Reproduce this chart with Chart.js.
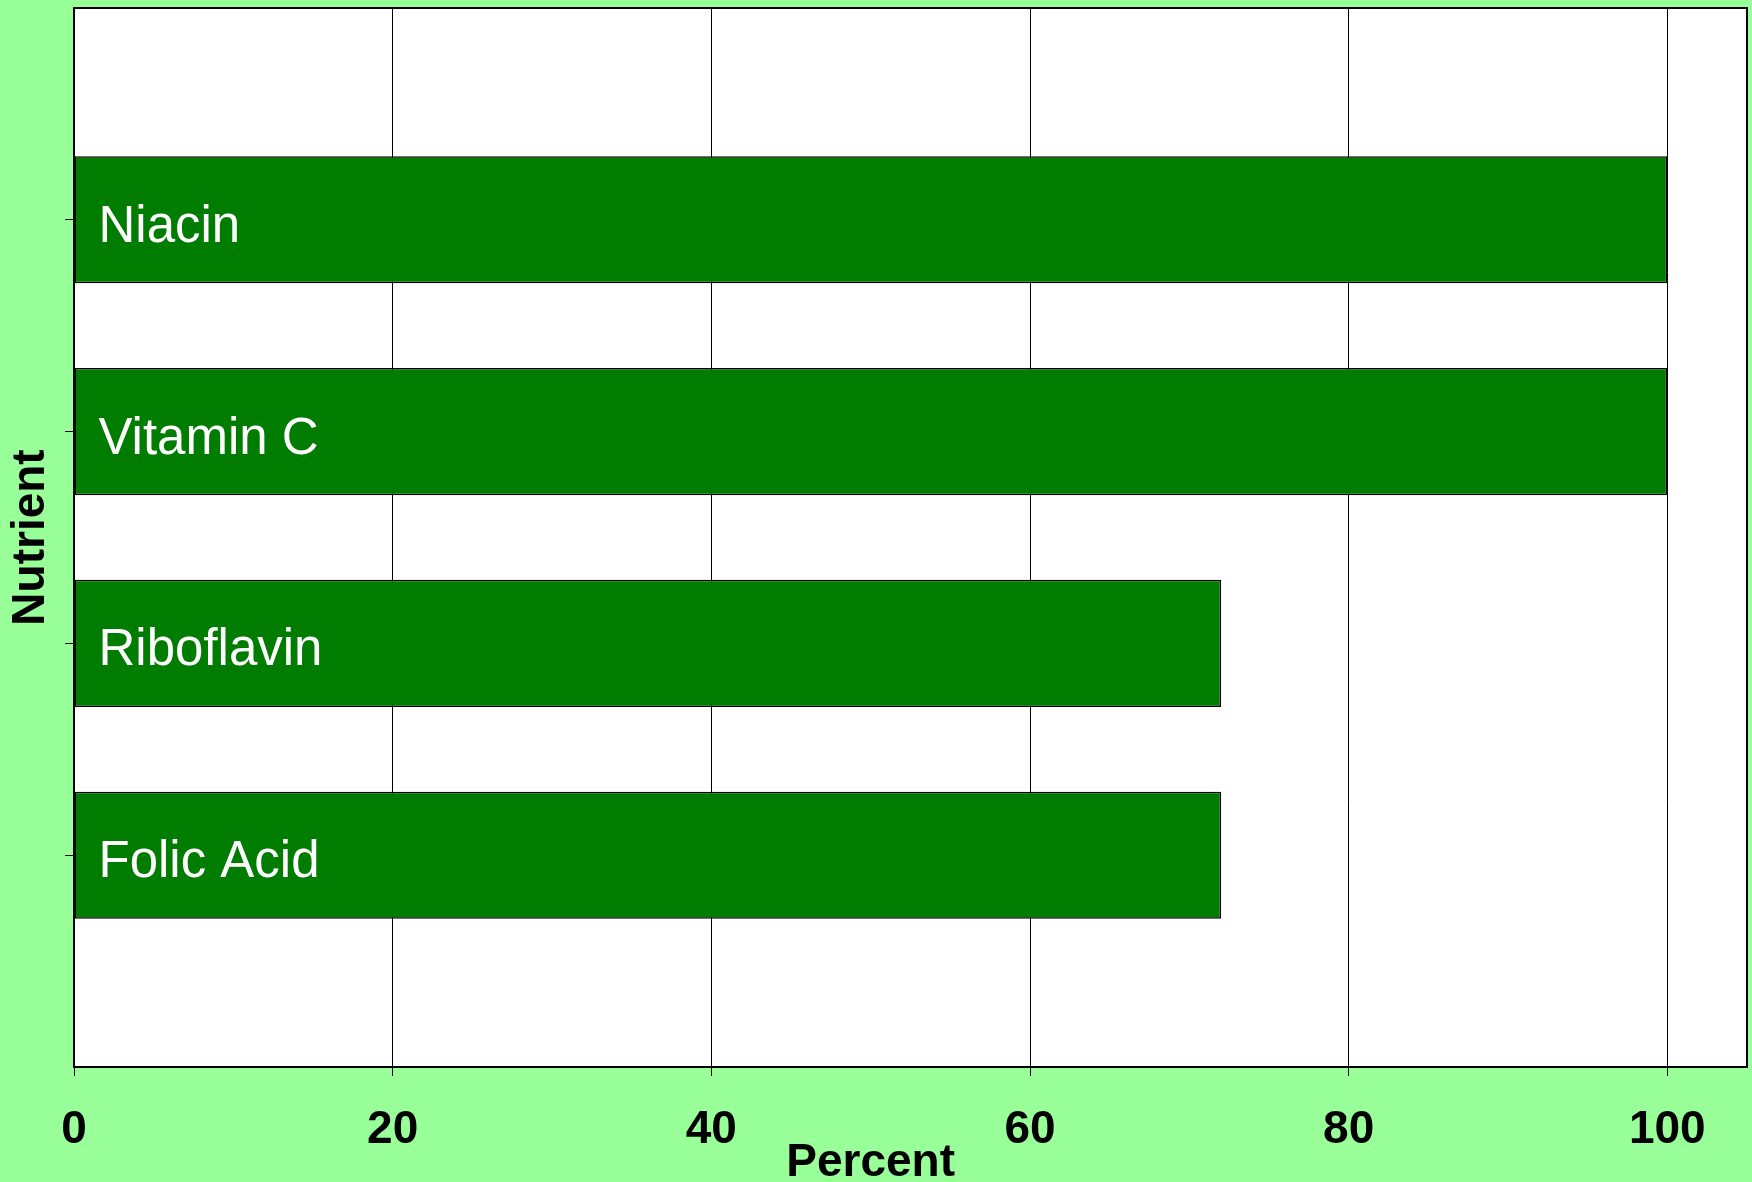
<!DOCTYPE html>
<html>
<head>
<meta charset="utf-8">
<script src="https://cdn.jsdelivr.net/npm/chart.js@4/dist/chart.umd.min.js"></script>
<style>
  html, body { margin: 0; padding: 0; background: #99ff99; }
  #wrap { width: 1752px; height: 1182px; }
</style>
</head>
<body>
<div id="wrap"><canvas id="myChart"></canvas></div>
<script>
// nutrient percentages
const nutrients = ['Niacin', 'Vitamin C', 'Riboflavin', 'Folic Acid'];
const percents = [100, 100, 72, 72];
const xTicks = [0, 20, 40, 60, 80, 100];

const FONT = "'Liberation Sans', Arial, Helvetica, sans-serif";

// one empty slot above and below the bars
const labels = ['', ...nutrients, ''];
const values = [null, ...percents, null];

// white plot area + black frame
const plotBox = {
    id: 'plotBox',
    beforeDraw: (chart) => {
        const { ctx, chartArea: a } = chart;
        ctx.save();
        ctx.fillStyle = '#ffffff';
        ctx.fillRect(a.left, a.top, a.right - a.left, a.bottom - a.top);
        ctx.restore();
    },
    afterDraw: (chart) => {
        const { ctx, chartArea: a } = chart;
        ctx.save();
        ctx.strokeStyle = '#000000';
        ctx.lineWidth = 2;
        ctx.strokeRect(a.left, a.top, a.right - a.left, a.bottom - a.top);
        ctx.restore();
    }
};

// names written inside each bar, plus the x title centred under the 0-100 range
const barNames = {
    id: 'barNames',
    afterDatasetsDraw: (chart) => {
        const { ctx } = chart;
        const meta = chart.getDatasetMeta(0);
        ctx.save();
        ctx.fillStyle = '#ffffff';
        ctx.font = `51px ${FONT}`;
        ctx.textBaseline = 'middle';
        ctx.textAlign = 'left';
        meta.data.forEach((bar, i) => {
            if (!labels[i]) return;
            ctx.fillText(labels[i], bar.base + 24, bar.y + 8);
        });
        ctx.restore();
    },
    afterDraw: (chart) => {
        const { ctx } = chart;
        const x = chart.scales.x;
        ctx.save();
        ctx.fillStyle = '#000000';
        ctx.font = `bold 46px ${FONT}`;
        ctx.textAlign = 'center';
        ctx.textBaseline = 'middle';
        ctx.fillText('Percent', x.getPixelForValue(50), 1163);
        ctx.restore();
    }
};

const ctx = document.getElementById('myChart');
new Chart(ctx, {
    type: 'bar',
    data: {
        labels: labels,
        datasets: [{
            data: values,
            backgroundColor: '#007c00',
            borderColor: '#000000',
            borderWidth: 1.5,
            borderSkipped: false,
            categoryPercentage: 1,
            barPercentage: 0.6
        }]
    },
    options: {
        indexAxis: 'y',
        responsive: true,
        maintainAspectRatio: false,
        animation: false,
        layout: { padding: { top: 8, right: 5, left: 0, bottom: 0 } },
        plugins: {
            legend: { display: false },
            tooltip: { enabled: false }
        },
        scales: {
            x: {
                type: 'linear',
                min: 0,
                max: 105,
                afterBuildTicks: (scale) => {
                    scale.ticks = xTicks.map(v => ({ value: v }));
                },
                afterFit: (scale) => { scale.height = 115; },
                grid: {
                    color: '#000000',
                    lineWidth: 1,
                    tickLength: 9,
                    tickColor: '#000000'
                },
                border: { color: '#000000', width: 2 },
                ticks: {
                    color: '#000000',
                    padding: 27,
                    maxRotation: 0,
                    font: { family: FONT, size: 46, weight: 'bold' }
                }
            },
            y: {
                type: 'category',
                offset: false,
                afterFit: (scale) => { scale.width = 74; },
                grid: {
                    offset: false,
                    drawOnChartArea: false,
                    drawTicks: true,
                    tickLength: 9,
                    tickColor: (c) => (labels[c.index] ? '#000000' : 'rgba(0,0,0,0)')
                },
                border: { color: '#000000', width: 2 },
                ticks: { display: false },
                title: {
                    display: true,
                    text: 'Nutrient',
                    color: '#000000',
                    padding: { top: 8, bottom: 0 },
                    font: { family: FONT, size: 46, weight: 'bold', lineHeight: 1 }
                }
            }
        }
    },
    plugins: [plotBox, barNames]
});
</script>
</body>
</html>
